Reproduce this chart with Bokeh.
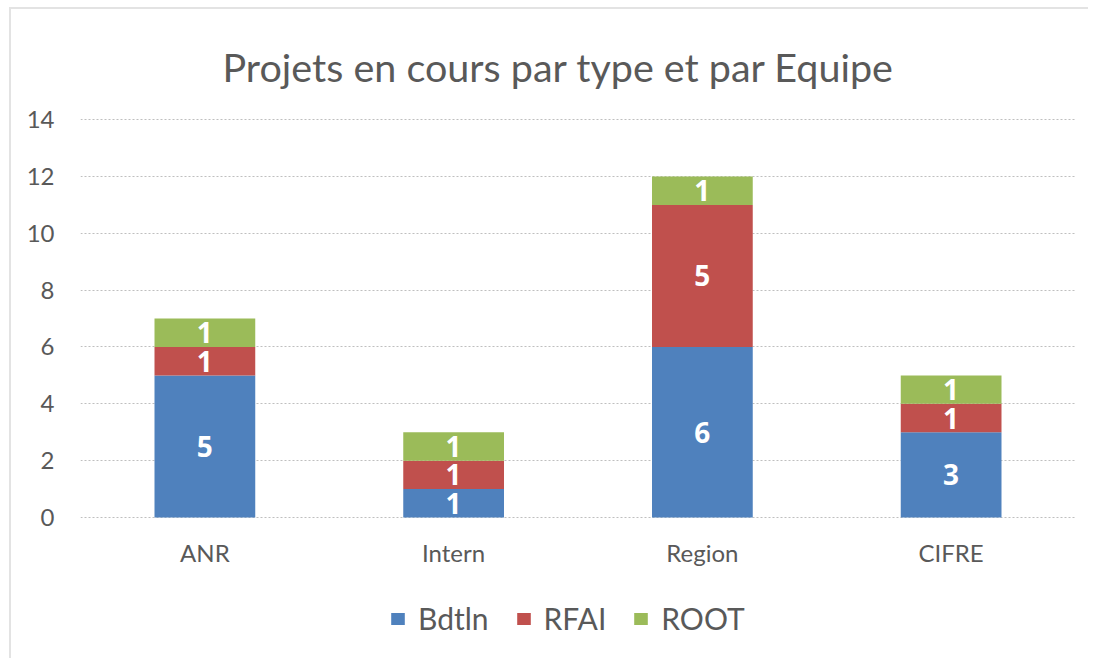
from bokeh.plotting import figure
from bokeh.models import ColumnDataSource, LabelSet, Legend, LegendItem
from bokeh.core.properties import value
from bokeh.embed import file_html
from bokeh.resources import INLINE

categories = ["ANR", "Intern", "Region", "CIFRE"]
series = ["Bdtln", "RFAI", "ROOT"]
bdtln = [5, 1, 6, 3]
rfai = [1, 1, 5, 1]
root = [1, 1, 1, 1]
colors = ["#4F81BD", "#C0504D", "#9BBB59"]
y_ticks = [0, 2, 4, 6, 8, 10, 12, 14]

FONT = "Lato"

# layout: plot area extends below 0 so the legend can sit inside the frame
Y_TOP = 14.04
PX_PER_UNIT = 399 / Y_TOP
FRAME_H = 540
Y_BOTTOM = Y_TOP - FRAME_H / PX_PER_UNIT

data = {"cat": categories, "Bdtln": bdtln, "RFAI": rfai, "ROOT": root}
src = ColumnDataSource(data)

p = figure(x_range=categories, y_range=(Y_BOTTOM, Y_TOP),
           frame_width=995, frame_height=FRAME_H,
           min_border_left=69, min_border_right=13, min_border_top=109, min_border_bottom=0,
           output_backend="svg", toolbar_location=None,
           title="Projets en cours par type et par Equipe")
p.styles = {"border-top": "2px solid #e3e3e3", "border-left": "2px solid #e3e3e3",
            "margin-left": "9px", "margin-top": "7px"}

renderers = p.vbar_stack(series, x="cat", width=0.405, color=colors, source=src, line_color=None)

# labels
lx, ly, lt = [], [], []
for i, c in enumerate(categories):
    base = 0
    for vals in (bdtln, rfai, root):
        v = vals[i]
        lx.append(c)
        ly.append(base + v / 2)
        lt.append(str(v))
        base += v
lsrc = ColumnDataSource(dict(x=lx, y=ly, t=lt))
p.add_layout(LabelSet(x="x", y="y", text="t", source=lsrc, text_color="white",
                      text_font=value("Open Sans"), text_font_style="bold", text_font_size="28px",
                      text_align="center", text_baseline="middle"))

p.title.text_font = FONT
p.title.text_font_size = "39.5px"
p.title.text_font_style = "normal"
p.title.text_color = "#595959"
p.title.align = "left"
p.title.standoff = 58
p.title.offset = 142

p.outline_line_color = None
p.xgrid.grid_line_color = None
p.ygrid.grid_line_color = "#bfbfbf"
p.ygrid.grid_line_dash = "2 2"
p.ygrid.grid_line_width = 1
p.yaxis.ticker = y_ticks
for ax in (p.xaxis[0], p.yaxis[0]):
    ax.axis_line_color = None
    ax.major_tick_line_color = None
    ax.minor_tick_line_color = None
    ax.major_label_text_font = FONT
    ax.major_label_text_font_size = "24px"
    ax.major_label_text_color = "#595959"
p.xaxis.fixed_location = 0
p.xaxis.major_label_standoff = 14
p.yaxis.major_label_standoff = 20

legend = Legend(items=[LegendItem(label=s, renderers=[r]) for s, r in zip(series, renderers)],
                orientation="horizontal", location=(309, 22),
                label_text_font=FONT, label_text_font_size="30px", label_text_color="#595959",
                glyph_width=17, glyph_height=15, spacing=26, label_standoff=12,
                border_line_color=None, background_fill_alpha=0, margin=0, padding=5)
p.add_layout(legend, "center")

open("out.html", "w").write(file_html(p, INLINE))
